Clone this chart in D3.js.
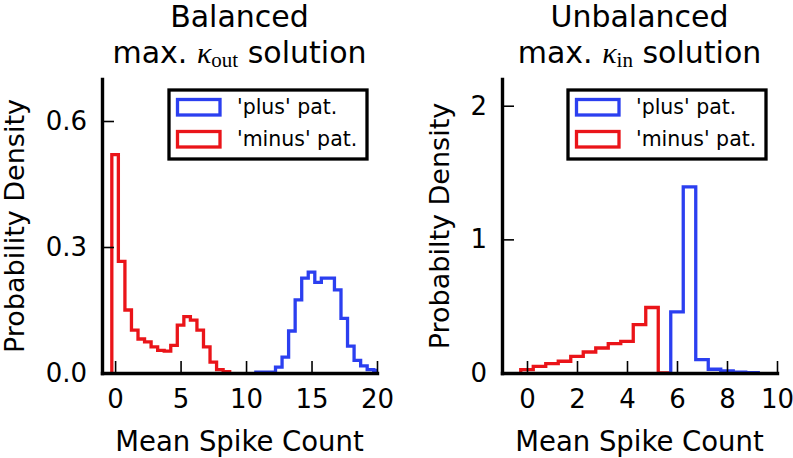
<!DOCTYPE html>
<meta charset="utf-8">
<head>
    <style>
        body {margin: 0; background: #fff;}
        text {font-family: "DejaVu Sans", sans-serif; fill: #000;}
        .domain {stroke: #000; stroke-width: 3.4px;}
        .tick line {stroke: #000; stroke-width: 1.6px;}
        .hist {fill: none; stroke-width: 3.3px; stroke-linejoin: miter;}
    </style>
    <script src="https://d3js.org/d3.v7.min.js"></script>
</head>
<body>
<script>

    // histogram bins are 0.5 wide, first edge given per series
    var binWidth = 0.5;

    // left panel: balanced, max kappa_out
    var balMinusStart = -0.25,
        balMinus = [0.52, 0.266, 0.150, 0.102, 0.081, 0.074, 0.062, 0.054, 0.052,
                    0.066, 0.114, 0.134, 0.126, 0.102, 0.062, 0.026, 0.008, 0.003];
    var balPlusStart = 10.75,
        balPlus = [0.002, 0.002, 0.002, 0.014, 0.038, 0.100, 0.174, 0.226, 0.240,
                   0.216, 0.226, 0.226, 0.198, 0.130, 0.064, 0.030, 0.017, 0.008, 0.006];

    // right panel: unbalanced, max kappa_in
    var unbMinusStart = -0.25,
        unbMinus = [0.025, 0.050, 0.070, 0.088, 0.125, 0.157, 0.187, 0.220, 0.237,
                    0.362, 0.490, 0.0];
    var unbPlusStart = 5.75,
        unbPlus = [0.457, 1.393, 0.100, 0.028, 0.015, 0.006, 0.002];

    var balXTicks = [0, 5, 10, 15, 20],
        balYTicks = [0.0, 0.3, 0.6],
        unbXTicks = [0, 2, 4, 6, 8, 10],
        unbYTicks = [0, 1, 2];

    var legendLabels = ["'plus' pat.", "'minus' pat."];
    var blue = "#2b3ff0",
        red = "#ea1419";

    var svg = d3.select("body").append("svg")
        .attr("width", 793)
        .attr("height", 458)
        .style("background", "#fff");

    var plotTop = 79, plotBottom = 373, plotW = 275;

    function drawPanel(p) {
        var x = d3.scaleLinear().domain(p.xDomain).range([p.left, p.left + plotW]);
        var y = d3.scaleLinear().domain(p.yDomain).range([plotBottom, plotTop]);

        var g = svg.append("g");

        svg.append("clipPath").attr("id", p.id + "clip")
          .append("rect")
            .attr("x", p.left).attr("y", plotTop - 5)
            .attr("width", plotW).attr("height", plotBottom - plotTop + 5);

        var line = d3.line().x(function(d) {return x(d[0])}).y(function(d) {return y(d[1])});

        function steps(start, vals) {
            var pts = [[start, 0]];
            vals.forEach(function(v, i) {
                pts.push([start + i * binWidth, v]);
                pts.push([start + (i + 1) * binWidth, v]);
            });
            pts.push([start + vals.length * binWidth, 0]);
            return pts;
        }

        g.append("path").attr("class", "hist")
            .attr("clip-path", "url(#" + p.id + "clip)")
            .attr("stroke", red)
            .attr("d", line(steps(p.minusStart, p.minus)));

        g.append("path").attr("class", "hist")
            .attr("clip-path", "url(#" + p.id + "clip)")
            .attr("stroke", blue)
            .attr("d", line(steps(p.plusStart, p.plus)));

        var xAxis = g.append("g")
            .attr("transform", "translate(0," + plotBottom + ")")
            .call(d3.axisBottom(x).tickValues(p.xTicks).tickFormat(d3.format("d"))
                .tickSizeInner(-12).tickSizeOuter(0).tickPadding(17));
        xAxis.selectAll("text").style("font-size", "26px");

        var yAxis = g.append("g")
            .attr("transform", "translate(" + p.left + ",0)")
            .call(d3.axisLeft(y).tickValues(p.yTicks).tickFormat(p.yFormat)
                .tickSizeInner(-12).tickSizeOuter(0).tickPadding(15));
        yAxis.selectAll("text").style("font-size", "26px");
        g.selectAll(".domain").attr("stroke-linecap", "square");

        // titles
        var cx = p.left + plotW / 2;
        g.append("text").attr("x", cx).attr("y", 27)
            .attr("text-anchor", "middle").style("font-size", "30px")
            .text(p.title1);
        var t2 = g.append("text").attr("x", cx).attr("y", 63)
            .attr("text-anchor", "middle").style("font-size", "30px");
        t2.append("tspan").text("max. ");
        t2.append("tspan").style("font-family", "'Liberation Serif', serif")
            .style("font-style", "italic").text("κ");
        t2.append("tspan").attr("dy", 4).style("font-family", "'Liberation Serif', serif")
            .style("font-size", "21px").text(p.sub);
        t2.append("tspan").attr("dy", -4).text(" solution");

        // axis labels
        g.append("text").attr("x", cx).attr("y", 451)
            .attr("text-anchor", "middle").style("font-size", "27.5px")
            .text("Mean Spike Count");
        g.append("text")
            .attr("transform", "translate(" + p.yLabelX + "," + ((plotTop + plotBottom) / 2) + ") rotate(-90)")
            .attr("text-anchor", "middle").style("font-size", "27px")
            .text(p.yLabel);

        // legend
        var lx = p.left + p.legendDx;
        var leg = g.append("g").attr("transform", "translate(" + lx + ",90)");
        leg.append("rect").attr("width", 198).attr("height", 69)
            .attr("fill", "#fff").attr("stroke", "#000").attr("stroke-width", 3.3);
        [blue, red].forEach(function(c, i) {
            leg.append("rect")
                .attr("x", 8.5).attr("y", 9.5 + i * 32)
                .attr("width", 42.5).attr("height", 15.5)
                .attr("fill", "none").attr("stroke", c).attr("stroke-width", 3.3);
            leg.append("text")
                .attr("x", 68).attr("y", 23.5 + i * 32)
                .style("font-size", "20.5px")
                .text(legendLabels[i]);
        });
    }

    drawPanel({
        id: "bal", left: 102, xDomain: [-1, 20], yDomain: [0, 0.7],
        xTicks: balXTicks, yTicks: balYTicks, yFormat: d3.format(".1f"),
        minusStart: balMinusStart, minus: balMinus,
        plusStart: balPlusStart, plus: balPlus,
        title1: "Balanced", sub: "out",
        yLabel: "Probability Density", yLabelX: 24, legendDx: 67
    });

    drawPanel({
        id: "unb", left: 502, xDomain: [-1, 10], yDomain: [0, 2.2],
        xTicks: unbXTicks, yTicks: unbYTicks, yFormat: d3.format("d"),
        minusStart: unbMinusStart, minus: unbMinus,
        plusStart: unbPlusStart, plus: unbPlus,
        title1: "Unbalanced", sub: "in",
        yLabel: "Probabilty Density", yLabelX: 449, legendDx: 66
    });

</script>
</body>
